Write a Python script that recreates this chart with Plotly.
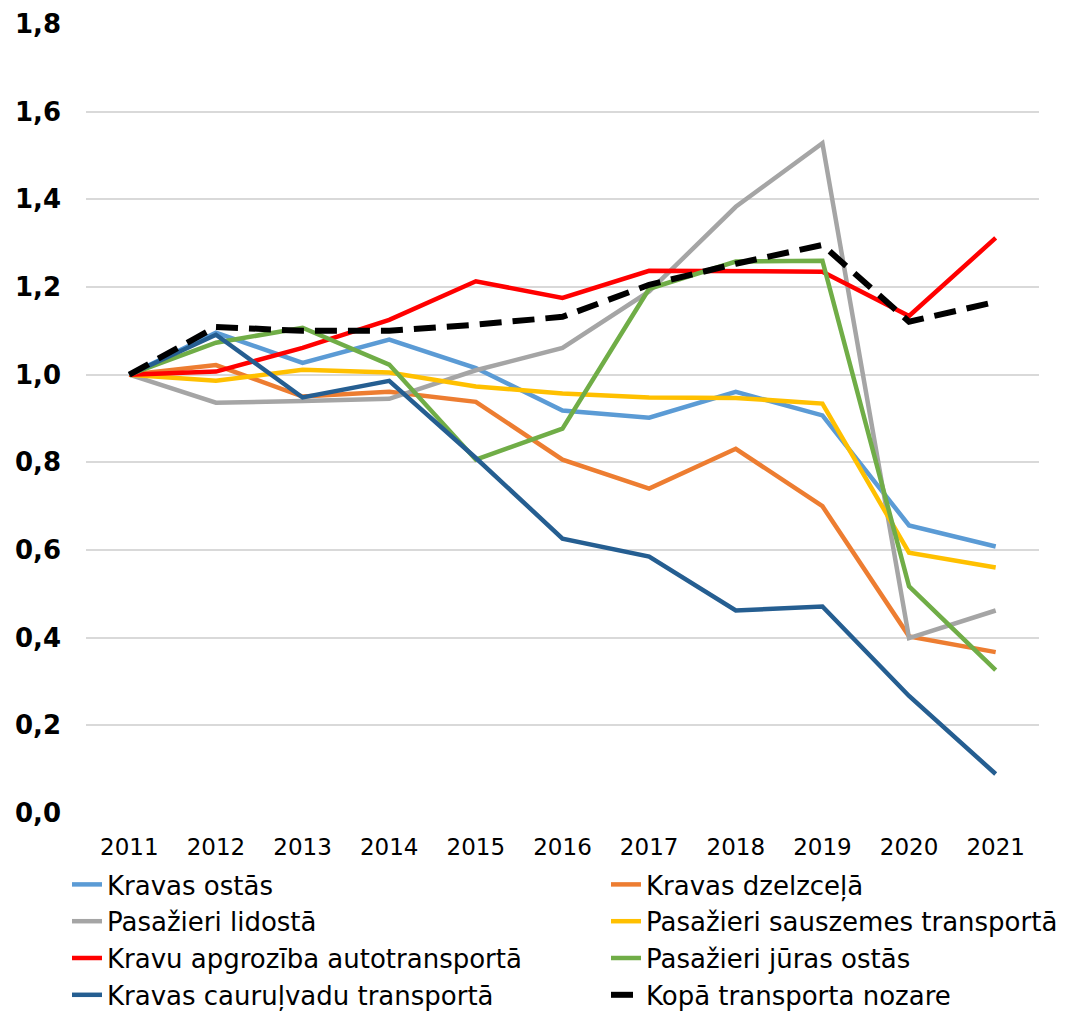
import plotly.graph_objects as go

years = ["2011", "2012", "2013", "2014", "2015", "2016", "2017", "2018", "2019", "2020", "2021"]

kravas_ostas = [1.0, 1.096, 1.027, 1.080, 1.015, 0.918, 0.902, 0.961, 0.907, 0.656, 0.608]
kravas_dzelzcela = [1.0, 1.022, 0.950, 0.961, 0.938, 0.806, 0.740, 0.831, 0.700, 0.403, 0.367]
pasazieri_lidosta = [1.0, 0.936, 0.940, 0.945, 1.010, 1.061, 1.190, 1.383, 1.528, 0.399, 0.462]
pasazieri_sauszemes = [1.0, 0.986, 1.011, 1.005, 0.973, 0.957, 0.948, 0.947, 0.934, 0.594, 0.560]
kravu_apgroziba = [1.0, 1.007, 1.061, 1.125, 1.213, 1.175, 1.237, 1.237, 1.235, 1.134, 1.312]
pasazieri_juras = [1.0, 1.073, 1.107, 1.023, 0.806, 0.877, 1.196, 1.258, 1.260, 0.517, 0.326]
kravas_cauruvadu = [1.0, 1.091, 0.948, 0.986, 0.810, 0.626, 0.585, 0.462, 0.471, 0.267, 0.089]
kopa = [1.0, 1.109, 1.100, 1.100, 1.114, 1.132, 1.205, 1.253, 1.296, 1.121, 1.166]

y_ticks = [0.0, 0.2, 0.4, 0.6, 0.8, 1.0, 1.2, 1.4, 1.6, 1.8]

series = [
    ("Kravas ostās", kravas_ostas, "#5B9BD5", "solid", 4.5, "legend"),
    ("Kravas dzelzceļā", kravas_dzelzcela, "#ED7D31", "solid", 4.5, "legend2"),
    ("Pasažieri lidostā", pasazieri_lidosta, "#A5A5A5", "solid", 4.5, "legend"),
    ("Pasažieri sauszemes transportā", pasazieri_sauszemes, "#FFC000", "solid", 4.5, "legend2"),
    ("Kravu apgrozība autotransportā", kravu_apgroziba, "#FF0000", "solid", 4.5, "legend"),
    ("Pasažieri jūras ostās", pasazieri_juras, "#70AD47", "solid", 4.5, "legend2"),
    ("Kravas cauruļvadu transportā", kravas_cauruvadu, "#255E91", "solid", 4.5, "legend"),
    ("Kopā transporta nozare", kopa, "#000000", "22px,11px", 6, "legend2"),
]

fig = go.Figure()
for i, (name, vals, color, dash, width, leg) in enumerate(series):
    fig.add_trace(go.Scatter(
        x=years, y=vals, name=name, mode="lines",
        line=dict(color=color, width=width, dash=dash),
        legend=leg, legendgroup=f"g{i}",
    ))

fig.add_hline(y=1.0, line=dict(color="black", width=1.5), layer="below")

W, H = 1063, 1003
font_family = "DejaVu Sans, Verdana, sans-serif"
legend_common = dict(
    orientation="v", xref="container", yref="container", yanchor="top", xanchor="left",
    font=dict(family=font_family, size=26, color="black"),
    tracegroupgap=7, bgcolor="rgba(0,0,0,0)", traceorder="normal",
)

fig.update_layout(
    width=W, height=H,
    margin=dict(l=78, r=32, t=16, b=198, autoexpand=False),
    paper_bgcolor="white", plot_bgcolor="white",
    separators=",.",
    showlegend=True,
    legend=dict(x=59 / W, y=1 - 853 / H, **legend_common),
    legend2=dict(x=598 / W, y=1 - 853 / H, **legend_common),
    xaxis=dict(
        type="category", range=[-0.5, 10.5], showgrid=False, showline=False, ticks="",
        tickfont=dict(family=font_family, size=23, color="black"),
        ticklabelstandoff=18, tickangle=0,
    ),
    yaxis=dict(
        range=[0, 1.8], tickvals=y_ticks, tickformat=".1f",
        showgrid=True, gridcolor="#D9D9D9", gridwidth=1.5,
        zeroline=False, showline=False, ticks="",
        tickfont=dict(family=font_family, size=26, color="black", weight="bold"),
        ticklabelstandoff=24,
    ),
)

fig.write_html("out.html")
